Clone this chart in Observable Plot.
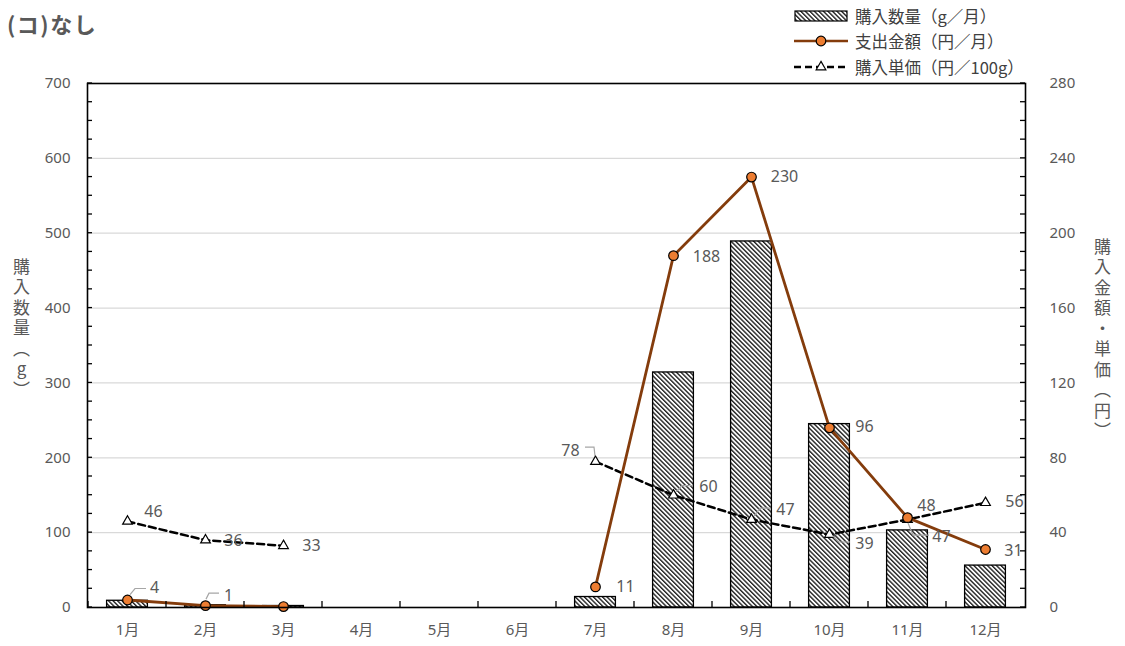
<!DOCTYPE html>
<html><head><meta charset="utf-8">
<script src="https://cdn.jsdelivr.net/npm/d3@7"></script>
<script src="https://cdn.jsdelivr.net/npm/@observablehq/plot@0.6"></script>
<style>
body{margin:0;background:#fff;font-family:"Noto Sans","Noto Sans CJK JP",sans-serif;}
#wrap{position:relative;width:1125px;height:646px;}
#title{position:absolute;left:7px;top:7px;font-size:22px;font-weight:bold;color:#595959;font-family:"Noto Sans CJK JP",sans-serif;letter-spacing:1.5px;}
#legend{position:absolute;left:793px;top:3px;font-size:16.5px;color:#404040;font-family:"Noto Sans CJK JP",sans-serif;}
.row{display:flex;align-items:center;height:25.5px;}
.row svg{margin-right:6px;}
.vt{position:absolute;writing-mode:vertical-rl;text-orientation:upright;font-size:17px;letter-spacing:3.5px;color:#595959;font-family:"Noto Sans CJK JP",sans-serif;}
</style></head>
<body>
<div id="wrap">
<div id="chart"></div>
<div id="title">(コ)なし</div>
<div id="legend"></div>
<div class="vt" id="ytl" style="left:9px;top:258px;">購入数量（g）</div>
<div class="vt" id="ytr" style="left:1090px;top:238px;">購入金額・単価（円）</div>
</div>
<script>
const months = ["1月","2月","3月","4月","5月","6月","7月","8月","9月","10月","11月","12月"];
const qty = [9, 3, 2, null, null, null, 14, 314, 489, 245, 103, 56];
const spend = [4, 1, 0.5, null, null, null, 11, 188, 230, 96, 48, 31];
const spendLabels = ["4", "1", null, null, null, null, "11", "188", "230", "96", "48", "31"];
const price = [46, 36, 33, null, null, null, 78, 60, 47, 39, 47, 56];
const price_labels = ["46", "36", "33", null, null, null, "78", "60", "47", "39", "47", "56"];
const leftTicks = [0, 100, 200, 300, 400, 500, 600, 700];
const rightTicks = [0, 40, 80, 120, 160, 200, 240, 280];
const legendNames = ["購入数量（g／月）", "支出金額（円／月）", "購入単価（円／100g）"];

// layout config (label offsets and leader shapes in px)
const spendOffsets = {"1月":[27,-12],"2月":[23,-10],"7月":[30,0],"8月":[33,1],"9月":[33,0],"10月":[35,-1],"11月":[19,-12],"12月":[28,1]};
const priceOffsets = {"1月":[26,-10],"2月":[28,1],"3月":[28,0],"7月":[-25,-11],"8月":[35,-8],"9月":[34,-10],"10月":[35,9],"11月":[34,17],"12月":[29,-1]};
const spendLeaders = {"1月":"M3,-5L8,-11L19,-11","2月":"M1,-6L4,-12L14,-12"};
const priceLeaders = {"7月":"M-10,-14L-1,-14L0,-5","8月":"M3,-3L9,-9L20,-9","9月":"M3,-3L9,-11L20,-11","10月":"M4,2L10,8L21,8","11月":"M1,4L6,16L22,16"};

const k = 700 / 280;
const table = months.map((m, i) => ({
  month: m,
  qty: qty[i],
  spend: spend[i] == null ? NaN : spend[i] * k,
  spendLabel: spendLabels[i],
  price: price[i] == null ? NaN : price[i] * k,
  priceLabel: price_labels[i]
}));

const defs = () => {
  const d = d3.create("svg:defs");
  const p = d.append("pattern").attr("id", "hatch").attr("patternUnits", "userSpaceOnUse")
    .attr("width", 3.2).attr("height", 3.2).attr("patternTransform", "rotate(-45)");
  p.append("rect").attr("width", 3.2).attr("height", 3.2).attr("fill", "white");
  p.append("line").attr("x1", 0.7).attr("y1", 0).attr("x2", 0.7).attr("y2", 3.2)
    .attr("stroke", "#222").attr("stroke-width", 1.4);
  return d.node();
};

const labelMarks = [];
for (const d of table) {
  if (d.spendLabel && spendOffsets[d.month]) {
    const [dx, dy] = spendOffsets[d.month];
    labelMarks.push(Plot.text([d], {x: "month", y: "spend", text: "spendLabel", dx, dy, fontSize: 16, fill: "#595959"}));
  }
  if (d.priceLabel && priceOffsets[d.month]) {
    const [dx, dy] = priceOffsets[d.month];
    labelMarks.push(Plot.text([d], {x: "month", y: "price", text: "priceLabel", dx, dy, fontSize: 16, fill: "#595959"}));
  }
}

const chart = Plot.plot({
  width: 1125,
  height: 646,
  marginTop: 83,
  marginBottom: 39,
  marginLeft: 87,
  marginRight: 100,
  style: {fontFamily: '"Noto Sans","Noto Sans CJK JP",sans-serif', fontSize: "15px", color: "#595959", background: "white"},
  x: {type: "band", domain: months, padding: 0, label: null},
  y: {domain: [0, 700], label: null},
  marks: [
    defs,
    Plot.gridY(leftTicks.slice(1), {stroke: "#d9d9d9", strokeOpacity: 1, strokeWidth: 1.2}),
    Plot.barY(table.filter(d => d.qty != null), {x: "month", y: "qty", fill: "url(#hatch)", stroke: "black", strokeWidth: 1.3, insetLeft: 18.6, insetRight: 18.6}),
    Plot.line(table, {x: "month", y: "price", stroke: "black", strokeWidth: 2.5, strokeDasharray: "7,4"}),
    Plot.dot(table.filter(d => !isNaN(d.price)), {x: "month", y: "price", symbol: "triangle", r: 3.6, fill: "white", stroke: "black", strokeWidth: 1.2}),
    Plot.line(table, {x: "month", y: "spend", stroke: "#843C0C", strokeWidth: 2.8}),
    Plot.dot(table.filter(d => !isNaN(d.spend)), {x: "month", y: "spend", r: 4.8, fill: "#ED7D31", stroke: "black", strokeWidth: 1.2}),
    ...labelMarks,
    Plot.axisY({ticks: leftTicks, tickSize: 0, tickPadding: 17, fontSize: 15}),
    Plot.axisY({anchor: "right", ticks: rightTicks.map(v => v * k), tickFormat: d => Math.round(d / k), tickSize: 0, tickPadding: 24, fontSize: 15}),
    Plot.axisX({tickSize: 0, tickPadding: 17, fontSize: 15}),
    Plot.frame({stroke: "black", strokeWidth: 1.6})
  ]
});

const ys = chart.scale("y"), xs = chart.scale("x");
const svg = d3.select(chart);
// leader lines
const lg = svg.append("g").attr("fill", "none").attr("stroke", "#a6a6a6").attr("stroke-width", 1.2);
for (const d of table) {
  const cx = xs.apply(d.month) + xs.bandwidth / 2;
  if (spendLeaders[d.month]) lg.append("path").attr("transform", `translate(${cx},${ys.apply(d.spend)})`).attr("d", spendLeaders[d.month]);
  if (priceLeaders[d.month]) lg.append("path").attr("transform", `translate(${cx},${ys.apply(d.price)})`).attr("d", priceLeaders[d.month]);
}
// inner ticks
const g = svg.append("g").attr("stroke", "black").attr("stroke-width", 1.3);
const L = 87, R = 1125 - 100, B = 646 - 39;
for (let v = 0; v <= 700; v += 25) {
  const y = ys.apply(v);
  g.append("line").attr("x1", L).attr("x2", L + 5).attr("y1", y).attr("y2", y);
  g.append("line").attr("x1", R).attr("x2", R - 5).attr("y1", y).attr("y2", y);
}
for (const m of months) {
  const x = xs.apply(m);
  g.append("line").attr("x1", x).attr("x2", x).attr("y1", B).attr("y2", B - 6);
}
document.getElementById("chart").appendChild(chart);

// legend
const leg = d3.select("#legend");
const r1 = leg.append("div").attr("class", "row");
const s1 = r1.append("svg").attr("width", 56).attr("height", 14);
s1.append("defs").html('<pattern id="hatchL" patternUnits="userSpaceOnUse" width="3.2" height="3.2" patternTransform="rotate(-45)"><rect width="3.2" height="3.2" fill="white"/><line x1="0.7" y1="0" x2="0.7" y2="3.2" stroke="#222" stroke-width="1.4"/></pattern>');
s1.append("rect").attr("x", 2).attr("y", 2).attr("width", 52).attr("height", 10).attr("fill", "url(#hatchL)").attr("stroke", "black").attr("stroke-width", 1.2);
r1.append("span").text(legendNames[0]);
const r2 = leg.append("div").attr("class", "row");
const s2 = r2.append("svg").attr("width", 56).attr("height", 14);
s2.append("line").attr("x1", 1).attr("x2", 55).attr("y1", 7).attr("y2", 7).attr("stroke", "#843C0C").attr("stroke-width", 2.5);
s2.append("circle").attr("cx", 28).attr("cy", 7).attr("r", 4.8).attr("fill", "#ED7D31").attr("stroke", "black").attr("stroke-width", 1.2);
r2.append("span").text(legendNames[1]);
const r3 = leg.append("div").attr("class", "row");
const s3 = r3.append("svg").attr("width", 56).attr("height", 14);
s3.append("line").attr("x1", 1).attr("x2", 55).attr("y1", 7).attr("y2", 7).attr("stroke", "black").attr("stroke-width", 2.5).attr("stroke-dasharray", "7,4");
s3.append("path").attr("transform", "translate(28,7)").attr("d", d3.symbol(d3.symbolTriangle, 3.6 * 3.6 * Math.PI)()).attr("fill", "white").attr("stroke", "black").attr("stroke-width", 1.2);
r3.append("span").text(legendNames[2]);
</script>
</body></html>
